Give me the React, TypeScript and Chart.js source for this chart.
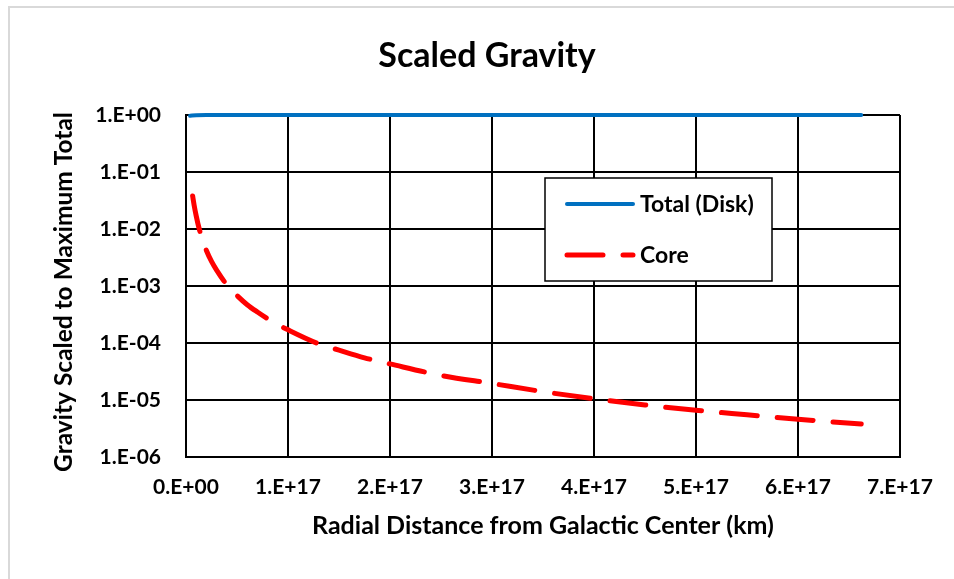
import React, { useEffect, useRef } from "react";
import { Chart, registerables } from "chart.js";

Chart.register(...registerables);

// Radial distance (km) and scaled gravity values
const radialTotalKm = [4e15, 1e16, 2e16, 5e16, 1e17, 2e17, 3e17, 4e17, 5e17, 6e17, 6.62e17];
const totalScaled = [0.97, 0.99, 1, 1, 1, 1, 1, 1, 1, 1, 1];

const radialCoreKm = [
  6.5e15, 8e15, 1e16, 1.3e16, 1.7e16, 2e16, 2.5e16, 3e16, 4e16, 5e16, 6e16, 7e16, 8.5e16,
  1e17, 1.28e17, 1.5e17, 1.75e17, 2e17, 2.5e17, 3e17, 3.5e17, 4e17, 4.5e17, 5e17, 5.5e17, 6e17, 6.62e17,
];
const coreScaled = [
  3.8e-2, 2.6e-2, 1.7e-2, 1.0e-2, 5.9e-3, 4.2e-3, 2.7e-3, 1.9e-3, 1.05e-3, 6.8e-4, 4.7e-4, 3.5e-4, 2.35e-4,
  1.7e-4, 1.0e-4, 7.5e-5, 5.5e-5, 4.3e-5, 2.7e-5, 1.95e-5, 1.4e-5, 1.05e-5, 8.2e-6, 6.6e-6, 5.5e-6, 4.6e-6, 3.8e-6,
];

const yTickValues = [1, 1e-1, 1e-2, 1e-3, 1e-4, 1e-5, 1e-6];
const xTickValues = [0, 1e17, 2e17, 3e17, 4e17, 5e17, 6e17, 7e17];

const chartTitle = "Scaled Gravity";
const yAxisTitle = "Gravity Scaled to Maximum Total";
const xAxisTitle = "Radial Distance from Galactic Center (km)";

const FONT = "Lato, 'Open Sans', sans-serif";

const fmtY = (v: number) => {
  const e = Math.round(Math.log10(v));
  return `1.E${e >= 0 ? "+" : "-"}${String(Math.abs(e)).padStart(2, "0")}`;
};
const fmtX = (v: number) => (v === 0 ? "0.E+00" : `${Math.round(v / 1e17)}.E+17`);

const titlePlugin = {
  id: "centeredTitles",
  afterDraw(chart: any) {
    const { ctx } = chart;
    ctx.save();
    ctx.fillStyle = "#000";
    ctx.textAlign = "center";
    ctx.textBaseline = "middle";
    ctx.font = `bold 34px ${FONT}`;
    ctx.fillText(chartTitle, 487, 56);
    ctx.translate(64, 292);
    ctx.rotate(-Math.PI / 2);
    ctx.font = `bold 24.5px ${FONT}`;
    ctx.fillText(yAxisTitle, 0, 0);
    ctx.restore();
  },
};

const boxLegend = {
  id: "boxLegend",
  afterDraw(chart: any) {
    const { ctx, chartArea: a } = chart;
    const x = a.left + 359;
    const y = a.top + 63;
    const w = 227;
    const h = 103;
    ctx.save();
    ctx.fillStyle = "#fff";
    ctx.fillRect(x, y, w, h);
    ctx.strokeStyle = "#000";
    ctx.lineWidth = 1.5;
    ctx.strokeRect(x, y, w, h);
    chart.data.datasets.forEach((ds: any, i: number) => {
      const cy = y + 26 + i * 51;
      ctx.beginPath();
      ctx.setLineDash(ds.borderDash || []);
      ctx.lineCap = "round";
      ctx.strokeStyle = ds.borderColor;
      ctx.lineWidth = ds.borderWidth;
      ctx.moveTo(x + 22, cy);
      ctx.lineTo(x + 88, cy);
      ctx.stroke();
      ctx.setLineDash([]);
      ctx.fillStyle = "#000";
      ctx.font = `bold 23px ${FONT}`;
      ctx.textBaseline = "middle";
      ctx.textAlign = "left";
      ctx.fillText(ds.label, x + 95, cy + 1);
    });
    ctx.restore();
  },
};

export default function App() {
  const ref = useRef<HTMLCanvasElement>(null);

  useEffect(() => {
    if (!ref.current) return;
    const chart = new Chart(ref.current, {
      type: "line",
      data: {
        datasets: [
          {
            label: "Total (Disk)",
            data: radialTotalKm.map((x, i) => ({ x, y: totalScaled[i] })),
            borderColor: "#0070C0",
            borderWidth: 4,
            borderCapStyle: "round",
            pointRadius: 0,
            cubicInterpolationMode: "monotone",
            clip: false,
          },
          {
            label: "Core",
            data: radialCoreKm.map((x, i) => ({ x, y: coreScaled[i] })),
            borderColor: "#FF0000",
            borderWidth: 5,
            borderDash: [36, 20],
            borderCapStyle: "round",
            pointRadius: 0,
            cubicInterpolationMode: "monotone",
            clip: false,
          },
        ],
      },
      options: {
        responsive: false,
        animation: false,
        layout: { padding: { left: 0, right: 54, top: 115, bottom: 0 } },
        plugins: {
          legend: { display: false },
          tooltip: { enabled: false },
          title: { display: false },
        },
        scales: {
          x: {
            type: "linear",
            min: 0,
            max: 7e17,
            afterBuildTicks: (s: any) => {
              s.ticks = xTickValues.map((value) => ({ value }));
            },
            afterFit: (s: any) => {
              s.height = 122;
            },
            ticks: {
              callback: (v: any) => fmtX(Number(v)),
              color: "#000",
              font: { family: FONT, size: 21, weight: "bold" },
              padding: 18,
              maxRotation: 0,
              autoSkip: false,
            },
            grid: { color: "#000", lineWidth: 2, drawTicks: false },
            border: { display: true, color: "#000", width: 2 },
            title: {
              display: true,
              text: xAxisTitle,
              color: "#000",
              font: { family: FONT, size: 25, weight: "bold" },
              padding: { top: 0, bottom: 38 },
            },
          },
          y: {
            type: "logarithmic",
            min: 1e-6,
            max: 1,
            afterBuildTicks: (s: any) => {
              s.ticks = yTickValues.map((value) => ({ value }));
            },
            afterFit: (s: any) => {
              s.width = 186;
            },
            ticks: {
              callback: (v: any) => fmtY(Number(v)),
              color: "#000",
              font: { family: FONT, size: 21, weight: "bold" },
              padding: 25,
              autoSkip: false,
            },
            grid: { color: "#000", lineWidth: 2, drawTicks: false },
            border: { display: true, color: "#000", width: 2 },
            title: { display: false },
          },
        },
      },
      plugins: [boxLegend, titlePlugin],
    } as any);
    return () => chart.destroy();
  }, []);

  return (
    <div style={{ position: "absolute", left: 0, top: 0, width: 954, height: 579, overflow: "hidden", background: "#fff" }}>
      <div
        style={{
          position: "absolute",
          left: 8,
          top: 6,
          width: 1000,
          height: 1000,
          borderLeft: "2px solid #d9d9d9",
          borderTop: "2px solid #d9d9d9",
        }}
      />
      <canvas ref={ref} width={954} height={579} style={{ position: "absolute", left: 0, top: 0, display: "block" }} />
    </div>
  );
}
